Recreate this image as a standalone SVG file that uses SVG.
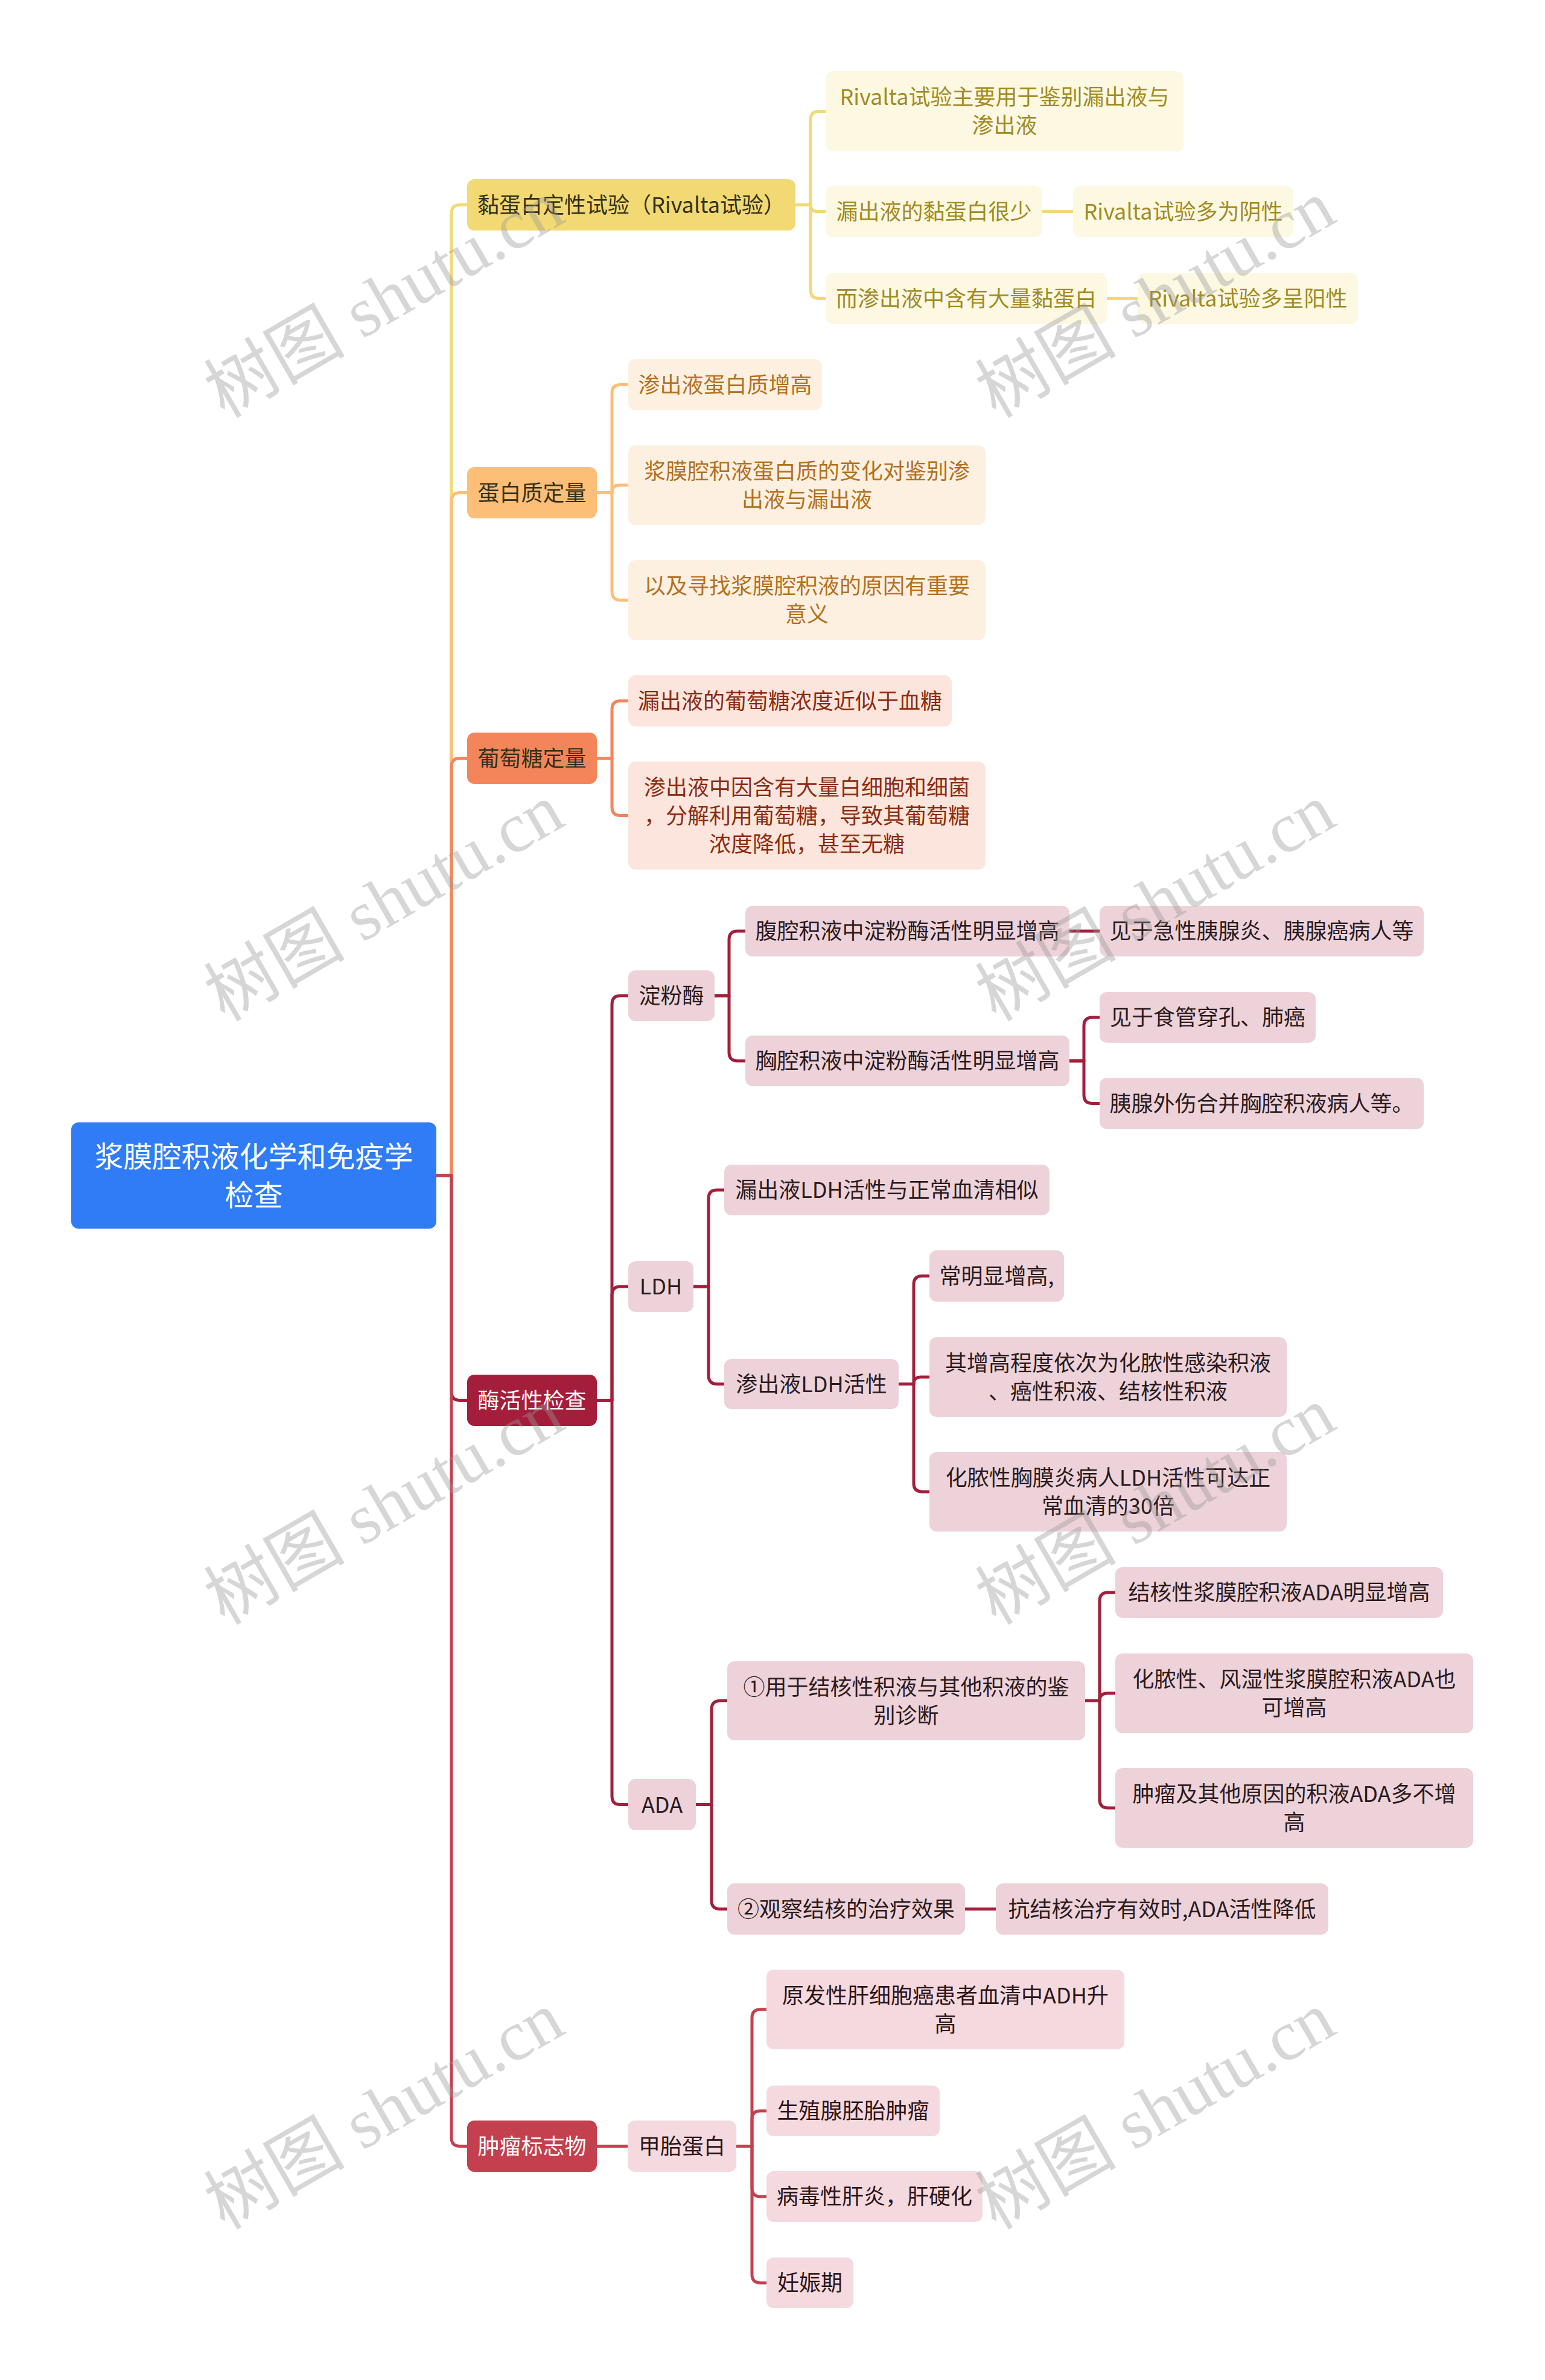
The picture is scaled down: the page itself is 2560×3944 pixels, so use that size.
<svg xmlns="http://www.w3.org/2000/svg" width="2560" height="3944" viewBox="0 0 2560 3944">
<style>
.t{font-family:"Noto Sans CJK SC","Noto Sans",sans-serif;font-size:36px;text-anchor:middle;dominant-baseline:central;transform:translate(0px,-3px)}
.big{font-size:48px}
.c{fill:none;stroke-width:5;stroke-linejoin:round}
.cy{stroke:#F2D974}.co{stroke:#FDBE78}.cc{stroke:#F4855A}.ce{stroke:#A41E3B}.ct{stroke:#C5404F}
.ry{fill:#FCF8E2}.ro{fill:#FEF0E1}.rc{fill:#FCE5DC}.re{fill:#EDD3D9}.rt{fill:#F4D9DE}
.ty{fill:#A28B1F}.to{fill:#B3711D}.tc{fill:#8D2C11}.te{fill:#2B1A1D}.tt{fill:#2D1418}
.w{fill:#FFFFFF}.d{fill:#33301A}
.wm{font-family:"Liberation Serif","Noto Sans CJK SC",serif;font-size:117px;fill:#999;fill-opacity:0.4}
</style>
<rect x="0" y="0" width="2560" height="3944" fill="#FFFFFF"/>
<g id="connectors">
<path class="c cy" d="M723,1948H748V353.5Q748,339.5 762,339.5H774"/>
<path class="c co" d="M723,1948H748V830.5Q748,816.5 762,816.5H774"/>
<path class="c cc" d="M723,1948H748V1270.5Q748,1256.5 762,1256.5H774"/>
<path class="c ce" d="M723,1948H748V2306.5Q748,2320.5 762,2320.5H774"/>
<path class="c ct" d="M723,1948H748V3542.5Q748,3556.5 762,3556.5H774"/>
<path class="c cy" d="M1318,339.5H1343V198.5Q1343,184.5 1357,184.5H1368"/>
<path class="c cy" d="M1318,339.5H1343Q1343,350.5 1354,350.5H1368"/>
<path class="c cy" d="M1318,339.5H1343V480.5Q1343,494.5 1357,494.5H1368"/>
<path class="c cy" d="M1727,350.5H1778"/>
<path class="c cy" d="M1834,494.5H1885"/>
<path class="c co" d="M989,816.5H1014V651.5Q1014,637.5 1028,637.5H1041"/>
<path class="c co" d="M989,816.5H1014Q1014,804 1026.5,804H1041"/>
<path class="c co" d="M989,816.5H1014V980.5Q1014,994.5 1028,994.5H1041"/>
<path class="c cc" d="M989,1256.5H1014V1175.5Q1014,1161.5 1028,1161.5H1041"/>
<path class="c cc" d="M989,1256.5H1014V1337.5Q1014,1351.5 1028,1351.5H1041"/>
<path class="c ce" d="M989,2320.5H1014V1664Q1014,1650 1028,1650H1041"/>
<path class="c ce" d="M989,2320.5H1014V2146Q1014,2132 1028,2132H1041"/>
<path class="c ce" d="M989,2320.5H1014V2976.5Q1014,2990.5 1028,2990.5H1041"/>
<path class="c ce" d="M1184,1650H1208V1557Q1208,1543 1222,1543H1235"/>
<path class="c ce" d="M1184,1650H1208V1744Q1208,1758 1222,1758H1235"/>
<path class="c ce" d="M1772,1543H1822"/>
<path class="c ce" d="M1772,1758H1796V1700Q1796,1686 1810,1686H1822"/>
<path class="c ce" d="M1772,1758H1796V1814.5Q1796,1828.5 1810,1828.5H1822"/>
<path class="c ce" d="M1149,2132H1174V1986Q1174,1972 1188,1972H1200"/>
<path class="c ce" d="M1149,2132H1174V2279.5Q1174,2293.5 1188,2293.5H1200"/>
<path class="c ce" d="M1489,2293.5H1514V2128.5Q1514,2114.5 1528,2114.5H1540"/>
<path class="c ce" d="M1489,2293.5H1514Q1514,2282 1525.5,2282H1540"/>
<path class="c ce" d="M1489,2293.5H1514V2458Q1514,2472 1528,2472H1540"/>
<path class="c ce" d="M1153,2990.5H1179V2832.5Q1179,2818.5 1193,2818.5H1205"/>
<path class="c ce" d="M1153,2990.5H1179V3149.5Q1179,3163.5 1193,3163.5H1205"/>
<path class="c ce" d="M1798,2818.5H1822V2653Q1822,2639 1836,2639H1848"/>
<path class="c ce" d="M1798,2818.5H1822Q1822,2806 1834.5,2806H1848"/>
<path class="c ce" d="M1798,2818.5H1822V2982Q1822,2996 1836,2996H1848"/>
<path class="c ce" d="M1599,3163.5H1650"/>
<path class="c ct" d="M989,3556.5H1040"/>
<path class="c ct" d="M1220,3556.5H1246V3344Q1246,3330 1260,3330H1270"/>
<path class="c ct" d="M1220,3556.5H1246V3512Q1246,3498 1260,3498H1270"/>
<path class="c ct" d="M1220,3556.5H1246V3626Q1246,3640 1260,3640H1270"/>
<path class="c ct" d="M1220,3556.5H1246V3769Q1246,3783 1260,3783H1270"/>
</g>
<g id="root"><rect x="118" y="1860" width="605" height="176" rx="12" fill="#2F7CF6"/><text class="t big w" x="420.5" y="1916">浆膜腔积液化学和免疫学</text><text class="t big w" x="420.5" y="1980">检查</text></g>
<g id="n1"><rect x="774" y="297" width="544" height="85" rx="12" fill="#F2D974"/><text class="t d" x="1046" y="339.5">黏蛋白定性试验（Rivalta试验）</text></g>
<g id="n2"><rect x="774" y="774" width="215" height="85" rx="12" fill="#FDBE78"/><text class="t d" x="881.5" y="816.5">蛋白质定量</text></g>
<g id="n3"><rect x="774" y="1214" width="215" height="85" rx="12" fill="#F4855A"/><text class="t d" x="881.5" y="1256.5">葡萄糖定量</text></g>
<g id="n4"><rect x="774" y="2278" width="215" height="85" rx="12" fill="#A41E3B"/><text class="t w" x="881.5" y="2320.5">酶活性检查</text></g>
<g id="n5"><rect x="774" y="3514" width="215" height="85" rx="12" fill="#C5404F"/><text class="t w" x="881.5" y="3556.5">肿瘤标志物</text></g>
<g id="y1"><rect class="ry" x="1368" y="118" width="593" height="133" rx="12"/><text class="t ty" x="1664.5" y="161">Rivalta试验主要用于鉴别漏出液与</text><text class="t ty" x="1664.5" y="208">渗出液</text></g>
<g id="y2"><rect class="ry" x="1368" y="308" width="359" height="85" rx="12"/><text class="t ty" x="1547.5" y="350.5">漏出液的黏蛋白很少</text></g>
<g id="y3"><rect class="ry" x="1778" y="308" width="365" height="85" rx="12"/><text class="t ty" x="1960.5" y="350.5">Rivalta试验多为阴性</text></g>
<g id="y4"><rect class="ry" x="1368" y="452" width="466" height="85" rx="12"/><text class="t ty" x="1601" y="494.5">而渗出液中含有大量黏蛋白</text></g>
<g id="y5"><rect class="ry" x="1885" y="452" width="365" height="85" rx="12"/><text class="t ty" x="2067.5" y="494.5">Rivalta试验多呈阳性</text></g>
<g id="o1"><rect class="ro" x="1041" y="595" width="321" height="85" rx="12"/><text class="t to" x="1201.5" y="637.5">渗出液蛋白质增高</text></g>
<g id="o2"><rect class="ro" x="1041" y="738" width="592" height="132" rx="12"/><text class="t to" x="1337" y="781">浆膜腔积液蛋白质的变化对鉴别渗</text><text class="t to" x="1337" y="828">出液与漏出液</text></g>
<g id="o3"><rect class="ro" x="1041" y="928" width="592" height="133" rx="12"/><text class="t to" x="1337" y="971">以及寻找浆膜腔积液的原因有重要</text><text class="t to" x="1337" y="1018">意义</text></g>
<g id="c1"><rect class="rc" x="1041" y="1119" width="536" height="85" rx="12"/><text class="t tc" x="1309" y="1161.5">漏出液的葡萄糖浓度近似于血糖</text></g>
<g id="c2"><rect class="rc" x="1041" y="1262" width="592" height="179" rx="12"/><text class="t tc" x="1337" y="1305">渗出液中因含有大量白细胞和细菌</text><text class="t tc" x="1337" y="1352">，分解利用葡萄糖，导致其葡萄糖</text><text class="t tc" x="1337" y="1399">浓度降低，甚至无糖</text></g>
<g id="e1"><rect class="re" x="1041" y="1608" width="143" height="84" rx="12"/><text class="t te" x="1112.5" y="1650">淀粉酶</text></g>
<g id="e1a"><rect class="re" x="1235" y="1501" width="537" height="84" rx="12"/><text class="t te" x="1503.5" y="1543">腹腔积液中淀粉酶活性明显增高</text></g>
<g id="e1a1"><rect class="re" x="1822" y="1501" width="537" height="84" rx="12"/><text class="t te" x="2090.5" y="1543">见于急性胰腺炎、胰腺癌病人等</text></g>
<g id="e1b"><rect class="re" x="1235" y="1716" width="537" height="84" rx="12"/><text class="t te" x="1503.5" y="1758">胸腔积液中淀粉酶活性明显增高</text></g>
<g id="e1b1"><rect class="re" x="1822" y="1644" width="358" height="84" rx="12"/><text class="t te" x="2001" y="1686">见于食管穿孔、肺癌</text></g>
<g id="e1b2"><rect class="re" x="1822" y="1786" width="537" height="85" rx="12"/><text class="t te" x="2090.5" y="1828.5">胰腺外伤合并胸腔积液病人等。</text></g>
<g id="e2"><rect class="re" x="1041" y="2090" width="108" height="84" rx="12"/><text class="t te" x="1095" y="2132">LDH</text></g>
<g id="e2a"><rect class="re" x="1200" y="1930" width="539" height="84" rx="12"/><text class="t te" x="1469.5" y="1972">漏出液LDH活性与正常血清相似</text></g>
<g id="e2b"><rect class="re" x="1200" y="2252" width="289" height="83" rx="12"/><text class="t te" x="1344.5" y="2293.5">渗出液LDH活性</text></g>
<g id="e2b1"><rect class="re" x="1540" y="2072" width="223" height="85" rx="12"/><text class="t te" x="1651.5" y="2114.5">常明显增高,</text></g>
<g id="e2b2"><rect class="re" x="1540" y="2216" width="592" height="132" rx="12"/><text class="t te" x="1836" y="2259">其增高程度依次为化脓性感染积液</text><text class="t te" x="1836" y="2306">、癌性积液、结核性积液</text></g>
<g id="e2b3"><rect class="re" x="1540" y="2406" width="592" height="132" rx="12"/><text class="t te" x="1836" y="2449">化脓性胸膜炎病人LDH活性可达正</text><text class="t te" x="1836" y="2496">常血清的30倍</text></g>
<g id="e3"><rect class="re" x="1041" y="2948" width="112" height="85" rx="12"/><text class="t te" x="1097" y="2990.5">ADA</text></g>
<g id="e3a"><rect class="re" x="1205" y="2753" width="593" height="131" rx="12"/><text class="t te" x="1501.5" y="2796">①用于结核性积液与其他积液的鉴</text><text class="t te" x="1501.5" y="2843">别诊断</text></g>
<g id="e3a1"><rect class="re" x="1848" y="2597" width="543" height="84" rx="12"/><text class="t te" x="2119.5" y="2639">结核性浆膜腔积液ADA明显增高</text></g>
<g id="e3a2"><rect class="re" x="1848" y="2740" width="593" height="132" rx="12"/><text class="t te" x="2144.5" y="2783">化脓性、风湿性浆膜腔积液ADA也</text><text class="t te" x="2144.5" y="2830">可增高</text></g>
<g id="e3a3"><rect class="re" x="1848" y="2930" width="593" height="132" rx="12"/><text class="t te" x="2144.5" y="2973">肿瘤及其他原因的积液ADA多不增</text><text class="t te" x="2144.5" y="3020">高</text></g>
<g id="e3b"><rect class="re" x="1205" y="3121" width="394" height="85" rx="12"/><text class="t te" x="1402" y="3163.5">②观察结核的治疗效果</text></g>
<g id="e3b1"><rect class="re" x="1650" y="3121" width="551" height="85" rx="12"/><text class="t te" x="1925.5" y="3163.5">抗结核治疗有效时,ADA活性降低</text></g>
<g id="t1"><rect class="rt" x="1040" y="3514" width="180" height="85" rx="12"/><text class="t tt" x="1130" y="3556.5">甲胎蛋白</text></g>
<g id="t1a"><rect class="rt" x="1270" y="3264" width="593" height="132" rx="12"/><text class="t tt" x="1566.5" y="3307">原发性肝细胞癌患者血清中ADH升</text><text class="t tt" x="1566.5" y="3354">高</text></g>
<g id="t1b"><rect class="rt" x="1270" y="3456" width="287" height="84" rx="12"/><text class="t tt" x="1413.5" y="3498">生殖腺胚胎肿瘤</text></g>
<g id="t1c"><rect class="rt" x="1270" y="3598" width="358" height="84" rx="12"/><text class="t tt" x="1449" y="3640">病毒性肝炎，肝硬化</text></g>
<g id="t1d"><rect class="rt" x="1270" y="3741" width="144" height="84" rx="12"/><text class="t tt" x="1342" y="3783">妊娠期</text></g>
<g id="watermark">
<text class="wm" transform="translate(372,694) rotate(-30)">树图 shutu.cn</text>
<text class="wm" transform="translate(1650,694) rotate(-30)">树图 shutu.cn</text>
<text class="wm" transform="translate(372,1694) rotate(-30)">树图 shutu.cn</text>
<text class="wm" transform="translate(1650,1694) rotate(-30)">树图 shutu.cn</text>
<text class="wm" transform="translate(372,2694) rotate(-30)">树图 shutu.cn</text>
<text class="wm" transform="translate(1650,2694) rotate(-30)">树图 shutu.cn</text>
<text class="wm" transform="translate(372,3696) rotate(-30)">树图 shutu.cn</text>
<text class="wm" transform="translate(1650,3696) rotate(-30)">树图 shutu.cn</text>
</g>
</svg>
